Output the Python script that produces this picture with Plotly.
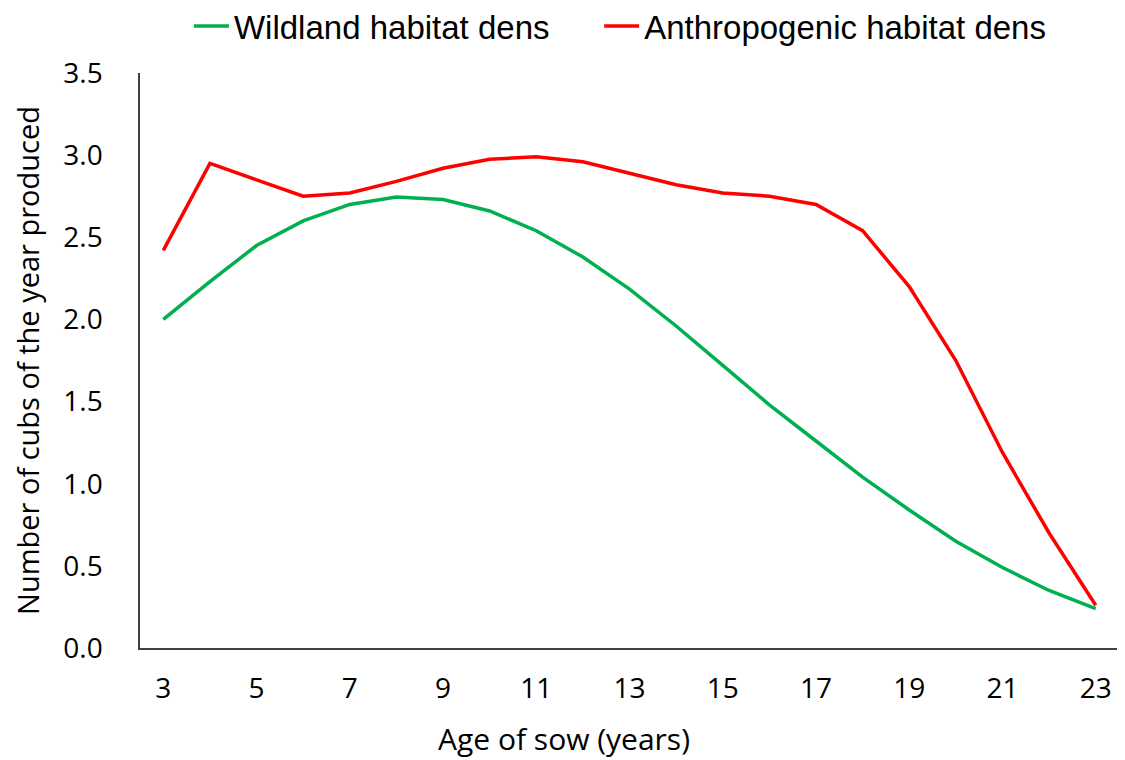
import plotly.graph_objects as go

ages = list(range(3, 24))
wildland = [2.00, 2.23, 2.45, 2.60, 2.70, 2.745, 2.73, 2.66, 2.54, 2.38, 2.185,
            1.96, 1.72, 1.48, 1.26, 1.04, 0.84, 0.65, 0.49, 0.35, 0.24]
anthropogenic = [2.42, 2.95, 2.85, 2.75, 2.77, 2.84, 2.92, 2.975, 2.99, 2.96, 2.89,
                 2.82, 2.77, 2.75, 2.70, 2.54, 2.20, 1.75, 1.19, 0.70, 0.26]
x_ticks = list(range(3, 24, 2))
y_ticks = [0, 0.5, 1.0, 1.5, 2.0, 2.5, 3.0, 3.5]

fig = go.Figure()
fig.add_trace(go.Scatter(x=ages, y=wildland, mode="lines", name="Wildland habitat dens",
                         line=dict(color="#00B050", width=3.5), legend="legend"))
fig.add_trace(go.Scatter(x=ages, y=anthropogenic, mode="lines", name="Anthropogenic habitat dens",
                         line=dict(color="#FF0000", width=3.5), legend="legend2"))

legend_font = dict(family="Liberation Sans Narrow, Liberation Sans, sans-serif", size=33, color="#000")

# page body has an 8px margin, so the figure is sized to end at the window edge
fig.update_layout(
    width=1117, height=752,
    paper_bgcolor="white", plot_bgcolor="white",
    margin=dict(l=132, r=6, t=65, b=112),
    font=dict(family="Open Sans, DejaVu Sans, sans-serif", color="#000"),
    showlegend=True,
    legend=dict(orientation="h", x=0.050, xanchor="left", y=0.976, yanchor="middle",
                yref="container", font=legend_font, itemwidth=35),
    legend2=dict(orientation="h", x=0.469, xanchor="left", y=0.976, yanchor="middle",
                 yref="container", font=legend_font, itemwidth=35),
    xaxis=dict(range=[2.5, 23.5], tickvals=x_ticks, ticktext=[str(v) for v in x_ticks],
               showgrid=False, zeroline=False, showline=True, linecolor="#404040", linewidth=1.5,
               ticks="", tickfont=dict(size=28), ticklabelstandoff=15, automargin=False),
    yaxis=dict(range=[0, 3.5], tickvals=y_ticks, ticktext=[f"{v:.1f}" for v in y_ticks],
               showgrid=False, zeroline=False, showline=True, linecolor="#404040", linewidth=1.5,
               ticks="", tickfont=dict(size=28), ticklabelstandoff=30, automargin=False,
               title=dict(text="Number of cubs of the year produced", font=dict(size=29), standoff=27)),
    annotations=[dict(text="Age of sow (years)", xref="paper", yref="paper",
                      x=0.433, y=-0.158, xanchor="center", yanchor="middle",
                      showarrow=False, font=dict(size=30))],
)

fig.write_html("out.html")
